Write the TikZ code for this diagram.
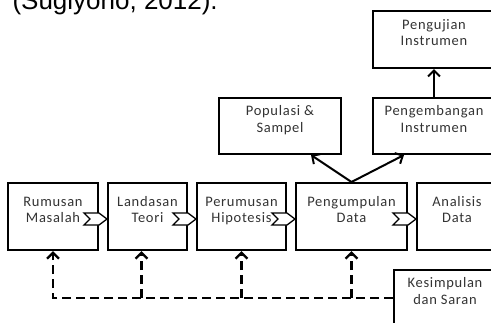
\documentclass[tikz,border=0pt]{standalone}
\usepackage{fontspec}
\setmainfont[LetterSpace=5]{Carlito}
\newfontfamily\arialfont{Liberation Sans}
\usetikzlibrary{arrows.meta, calc}

\newcommand{\notchlink}[2]{%
  \draw[notch] ([shift={(-15,-8.5)}]#1.east) -- ([shift={(-8,-8.5)}]#2.west)
    -- ([yshift=-2.5pt]#2.west) -- ([shift={(-8,3.5)}]#2.west)
    -- ([shift={(-15,3.5)}]#1.east) -- ([shift={(-9,-2.5)}]#1.east) -- cycle;}

\begin{document}
\begin{tikzpicture}[
    x=1pt, y=1pt,
    every node/.style={font=\fontsize{14.5}{16.5}\selectfont, text=black!80},
    box/.style={draw, line width=2pt, align=center, minimum height=56,
        text height=26pt, text depth=13.5pt, inner sep=2pt},
    notch/.style={draw, fill=white, line width=1.3pt, line join=miter},
    arrow/.style={-{Straight Barb[length=6pt, width=12pt]}, line width=2pt},
    dasharrow/.style={arrow, dash pattern=on 9pt off 5pt, line width=2.4pt}
]
\useasboundingbox (0,0) rectangle (491,-322);

% ============ SOURCE LINE ============
\node[font=\arialfont\fontsize{26}{30}\selectfont, text=black, anchor=base west] (src) at (9,-9) {(Sugiyono, 2012).};

% ============ MAIN FLOW ============
\node[box, minimum width=90, minimum height=67] (rm) at (53,-216.5) {Rumusan\\Masalah};
\node[box, minimum width=79, minimum height=67] (lt) at (147.5,-216.5) {Landasan\\Teori};
\node[box, minimum width=89, minimum height=67] (ph) at (241.5,-216.5) {Perumusan\\Hipotesis};
\node[box, minimum width=111, minimum height=67] (pu) at (351.5,-216.5) {Pengumpulan\\Data};
\node[box, minimum width=80, minimum height=67] (ad) at (457,-216.5) {Analisis\\Data};

% ============ UPPER BOXES ============
\node[box, minimum width=122] (ps) at (280,-126) {Populasi \&\\Sampel};
\node[box, minimum width=122] (pe) at (434,-126) {Pengembangan\\Instrumen};
\node[box, minimum width=122, minimum height=57] (pj) at (434,-39.5) {Pengujian\\Instrumen};

% ============ CONCLUSION ============
\node[box, minimum width=102] (ks) at (445,-298) {Kesimpulan\\dan Saran};

% Notched links
\notchlink{rm}{lt}
\notchlink{lt}{ph}
\notchlink{ph}{pu}
\notchlink{pu}{ad}

% Arrows up
\draw[arrow] (pu.north) -- ([xshift=31pt]ps.south);
\draw[arrow] (pu.north) -- ([xshift=-30pt]pe.south);
\draw[arrow] (pe.north) -- (pj.south);

% Feedback (dashed)
\coordinate (ltb) at ([xshift=-6pt]lt.south);
\draw[dasharrow] (ks.west) -| (rm.south);
\draw[dasharrow] (ks.west -| ltb) -- (ltb);
\draw[dasharrow] (ks.west -| ph.south) -- (ph.south);
\draw[dasharrow] (ks.west -| pu.south) -- (pu.south);

\end{tikzpicture}
\end{document}
